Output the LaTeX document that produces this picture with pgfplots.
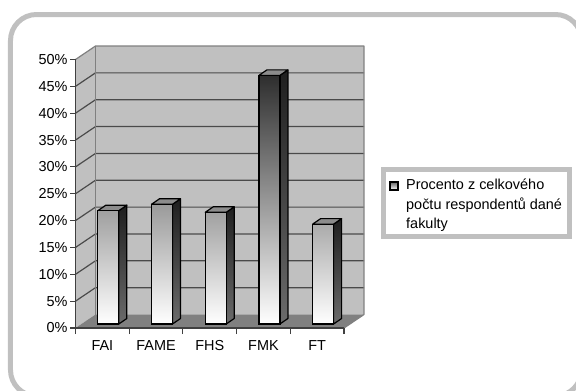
\documentclass[border=0pt]{standalone}
\usepackage{pgfplots}
\pgfplotsset{compat=1.18}
\usepackage{pgfplotstable}
\usepackage{fontspec}
\setmainfont{Liberation Sans}

\definecolor{wallgray}{HTML}{C0C0C0}
\definecolor{floorgray}{HTML}{808080}
\definecolor{edgegray}{HTML}{808080}
\definecolor{gridgray}{HTML}{4A4A4A}
\definecolor{axisgray}{HTML}{404040}
\definecolor{framegray}{HTML}{C0C0C0}

% share of respondents per faculty (%)
\pgfplotstableread{
idx fac  val
0   FAI  21.1
1   FAME 22.3
2   FHS  20.8
3   FMK  46.3
4   FT   18.6
}\datatable

\newcommand{\labelfont}{\fontsize{14.5}{19.5}\selectfont}

\begin{document}
\begin{tikzpicture}

% walls, floor, gridlines and the value axis
\begin{axis}[
  name=frontplane,
  scale only axis, width=268.5bp, height=268.5bp,
  xmin=-0.5, xmax=4.5, ymin=0, ymax=50,
  clip=false, axis on top,
  axis x line*=bottom, axis y line*=left,
  axis line style={draw=axisgray, line width=1.1bp, -},
  ytick={0,5,...,50},
  yticklabels={0\%,5\%,10\%,15\%,20\%,25\%,30\%,35\%,40\%,45\%,50\%},
  xtick={0,...,4},
  xticklabels={FAI,FAME,FHS,FMK,FT},
  minor xtick={-0.5,0.5,...,4.5},
  tick align=outside,
  major tick length=5bp, minor tick length=6bp,
  major x tick style={draw=none},
  tick style={draw=axisgray, line width=1.1bp},
  ticklabel style={font=\labelfont, inner sep=0pt},
  yticklabel style={anchor=east, xshift=-2.8bp},
  xticklabel style={anchor=north, yshift=-7.7bp},
]
  \coordinate (O) at (axis cs:-0.5,0);
  % side wall
  \fill[wallgray] (axis cs:-0.5,0) -- ++(20bp,13.5bp) -- ++(0bp,268.5bp)
    -- (axis cs:-0.5,50) -- cycle;
  % back wall
  \fill[wallgray] (axis cs:-0.5,0) ++(20bp,13.5bp) rectangle ++(268.5bp,268.5bp);
  % floor
  \fill[floorgray] (axis cs:-0.5,0) -- (axis cs:4.5,0) -- ++(20bp,13.5bp)
    -- ++(-268.5bp,0bp) -- cycle;
  % gridlines across the side and back walls
  \pgfplotsinvokeforeach{5,10,...,45}{
    \draw[gridgray, line width=1.2bp] (axis cs:-0.5,#1) -- ++(20bp,13.5bp) -- ++(268.5bp,0bp);
  }
  % wall edges
  \draw[edgegray, line width=1.2bp, line join=round]
    (axis cs:-0.5,50) -- ++(20bp,13.5bp) -- ++(268.5bp,0bp) -- ++(0bp,-268.5bp)
    -- ++(-20bp,-13.5bp);
  \draw[edgegray, line width=1.2bp]
    (axis cs:-0.5,0) ++(20bp,13.5bp) -- ++(0bp,268.5bp);
\end{axis}

% the columns, standing a little behind the front plane
\begin{axis}[
  at={(O)}, anchor=south west,
  scale only axis, width=268.5bp, height=268.5bp,
  xmin=-0.6115, xmax=4.3885, ymin=-0.745, ymax=49.255,
  hide axis, clip=false,
]
  \pgfplotsinvokeforeach{0,...,4}{%
    \pgfplotstablegetelem{#1}{val}\of\datatable
    \pgfmathsetmacro\vlo{\pgfplotsretval}%
    \pgfmathsetmacro\vhi{\pgfplotsretval+1.024}%
    \pgfmathsetmacro\xl{#1-0.1951}%
    \pgfmathsetmacro\xr{#1+0.1951}%
    \pgfmathsetmacro\xlb{#1-0.1951+0.1487}%
    \pgfmathsetmacro\xrb{#1+0.1951+0.1487}%
    \edef\columnsides{%
      \noexpand\shade[top color=black!88, bottom color=black!58, draw=black,
        line width=1.2bp, line join=round]
        (axis cs:\xr,0) -- (axis cs:\xrb,1.024) -- (axis cs:\xrb,\vhi)
        -- (axis cs:\xr,\vlo) -- cycle;
      \noexpand\filldraw[fill=black!45, draw=black, line width=1.2bp, line join=round]
        (axis cs:\xl,\vlo) -- (axis cs:\xlb,\vhi) -- (axis cs:\xrb,\vhi)
        -- (axis cs:\xr,\vlo) -- cycle;
    }\columnsides
  }
  \addplot[ybar, bar width=0.3902, bar shift=0pt, draw=black, line width=1.2bp,
    top color=black!82, middle color=black!50, bottom color=white]
    table[x=idx, y=val] {\datatable};
\end{axis}

% page furniture, placed in page units from the foot of the value axis
\begin{scope}[shift={(O)}, xshift=-75.5bp, yshift=-62bp, x=1bp, y=1bp]
  % outer rounded frame
  \begin{scope}
    \clip (0,0) rectangle (576,390);
    \draw[framegray, line width=5bp, rounded corners=26bp]
      (10.5,375.5) rectangle (581.5,-6);
  \end{scope}
  % legend
  \draw[framegray, line width=5bp, fill=white] (383.5,221) rectangle (569,154);
  \shade[top color=black!60, bottom color=white, draw=black, line width=1.2bp]
    (390,208) rectangle (398,200);
  \node[anchor=north west, align=left, inner sep=0pt, font=\labelfont]
    at (406,211.2) {Procento z celkového\\počtu respondentů dané\\fakulty};

  \pgfresetboundingbox
  \path[use as bounding box] (0,0) rectangle (576,390);
\end{scope}
\end{tikzpicture}
\end{document}
